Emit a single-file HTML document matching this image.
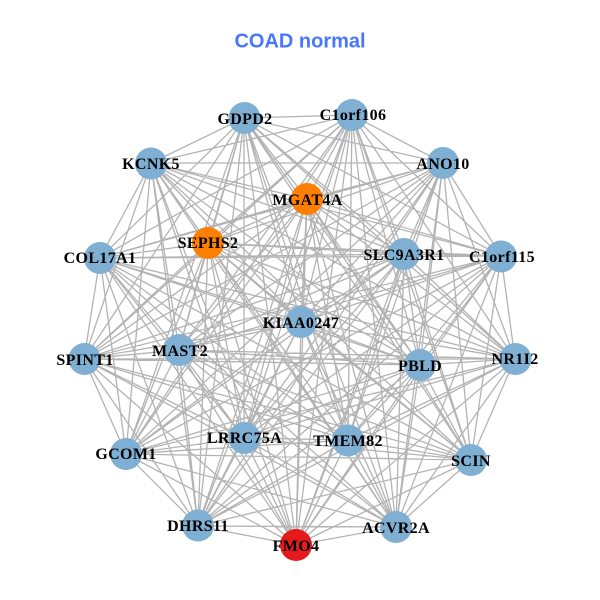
<!DOCTYPE html>
<html>
<head>
<meta charset="utf-8">
<style>
html,body{margin:0;padding:0;background:#fff;}
svg{display:block;}
.t{font-family:"Liberation Sans",sans-serif;font-weight:bold;font-size:20px;fill:#4876ff;}
.l{font-family:"Liberation Serif",serif;font-weight:bold;font-size:16px;letter-spacing:.35px;fill:#000;text-anchor:middle;}
</style>
</head>
<body>
<svg width="600" height="600" viewBox="0 0 600 600" xmlns="http://www.w3.org/2000/svg">
<rect width="600" height="600" fill="#fff"/>
<text class="t" x="300" y="47.5" text-anchor="middle">COAD normal</text>
<path fill="none" stroke="#b3b3b3" stroke-width="1.3" d="
M244 118L352 115M244 118L443 163M244 118L151 163M244 118L307 199M244 118L208 243M244 118L404 254M244 118L501 256M244 118L100 258M244 118L301 322M244 118L84 359M244 118L179 350M244 118L420 365M244 118L515 359M244 118L126 454M244 118L244 438M244 118L348 440M244 118L471 460M244 118L198 526M244 118L396 527M244 118L296 545
M352 115L443 163M352 115L151 163M352 115L307 199M352 115L208 243M352 115L404 254M352 115L501 256M352 115L100 258M352 115L301 322M352 115L84 359M352 115L179 350M352 115L420 365M352 115L515 359M352 115L126 454M352 115L244 438M352 115L348 440M352 115L471 460M352 115L198 526M352 115L396 527M352 115L296 545
M443 163L151 163M443 163L307 199M443 163L208 243M443 163L404 254M443 163L501 256M443 163L100 258M443 163L301 322M443 163L84 359M443 163L179 350M443 163L420 365M443 163L515 359M443 163L126 454M443 163L244 438M443 163L348 440M443 163L471 460M443 163L198 526M443 163L396 527M443 163L296 545
M151 163L307 199M151 163L208 243M151 163L404 254M151 163L501 256M151 163L100 258M151 163L301 322M151 163L84 359M151 163L179 350M151 163L420 365M151 163L515 359M151 163L126 454M151 163L244 438M151 163L348 440M151 163L471 460M151 163L198 526M151 163L396 527M151 163L296 545
M307 199L208 243M307 199L404 254M307 199L501 256M307 199L100 258M307 199L301 322M307 199L84 359M307 199L179 350M307 199L420 365M307 199L515 359M307 199L126 454M307 199L244 438M307 199L348 440M307 199L471 460M307 199L198 526M307 199L396 527M307 199L296 545
M208 243L404 254M208 243L501 256M208 243L100 258M208 243L301 322M208 243L84 359M208 243L179 350M208 243L420 365M208 243L515 359M208 243L126 454M208 243L244 438M208 243L348 440M208 243L471 460M208 243L198 526M208 243L396 527M208 243L296 545
M404 254L501 256M404 254L100 258M404 254L301 322M404 254L84 359M404 254L179 350M404 254L420 365M404 254L515 359M404 254L126 454M404 254L244 438M404 254L348 440M404 254L471 460M404 254L198 526M404 254L396 527M404 254L296 545
M501 256L100 258M501 256L301 322M501 256L84 359M501 256L179 350M501 256L420 365M501 256L515 359M501 256L126 454M501 256L244 438M501 256L348 440M501 256L471 460M501 256L198 526M501 256L396 527M501 256L296 545
M100 258L301 322M100 258L84 359M100 258L179 350M100 258L420 365M100 258L515 359M100 258L126 454M100 258L244 438M100 258L348 440M100 258L471 460M100 258L198 526M100 258L396 527M100 258L296 545
M301 322L84 359M301 322L179 350M301 322L420 365M301 322L515 359M301 322L126 454M301 322L244 438M301 322L348 440M301 322L471 460M301 322L198 526M301 322L396 527M301 322L296 545
M84 359L179 350M84 359L420 365M84 359L515 359M84 359L126 454M84 359L244 438M84 359L348 440M84 359L471 460M84 359L198 526M84 359L396 527M84 359L296 545
M179 350L420 365M179 350L515 359M179 350L126 454M179 350L244 438M179 350L348 440M179 350L471 460M179 350L198 526M179 350L396 527M179 350L296 545
M420 365L515 359M420 365L126 454M420 365L244 438M420 365L348 440M420 365L471 460M420 365L198 526M420 365L396 527M420 365L296 545
M515 359L126 454M515 359L244 438M515 359L348 440M515 359L471 460M515 359L198 526M515 359L396 527M515 359L296 545
M126 454L244 438M126 454L348 440M126 454L471 460M126 454L198 526M126 454L396 527M126 454L296 545
M244 438L348 440M244 438L471 460M244 438L198 526M244 438L396 527M244 438L296 545
M348 440L471 460M348 440L198 526M348 440L396 527M348 440L296 545
M471 460L198 526M471 460L396 527M471 460L296 545
M198 526L396 527M198 526L296 545
M396 527L296 545"/>
<g fill="#7fb0d3">
<circle cx="244.5" cy="118" r="16"/>
<circle cx="352" cy="115" r="16"/>
<circle cx="443" cy="163" r="16"/>
<circle cx="151" cy="163.5" r="16"/>
<circle cx="404" cy="254" r="16"/>
<circle cx="501" cy="256.5" r="16"/>
<circle cx="100" cy="258" r="16"/>
<circle cx="301" cy="322" r="16"/>
<circle cx="84.5" cy="359" r="16"/>
<circle cx="179.5" cy="350" r="16"/>
<circle cx="420" cy="365" r="16"/>
<circle cx="515.5" cy="359" r="16"/>
<circle cx="126" cy="454" r="16"/>
<circle cx="244.5" cy="438" r="16"/>
<circle cx="348" cy="440.5" r="16"/>
<circle cx="471" cy="460" r="16"/>
<circle cx="198" cy="525.5" r="16"/>
<circle cx="396" cy="527" r="16"/>
</g>
<circle cx="307" cy="199" r="16" fill="#ff7f00"/>
<circle cx="208" cy="243" r="16" fill="#ff7f00"/>
<circle cx="296" cy="545" r="16" fill="#e41a1c"/>
<g class="labels">
<text class="l" x="245" y="124">GDPD2</text>
<text class="l" x="353" y="120">C1orf106</text>
<text class="l" x="443" y="169">ANO10</text>
<text class="l" x="151" y="169">KCNK5</text>
<text class="l" x="307.500" y="205">MGAT4A</text>
<text class="l" x="208" y="248">SEPHS2</text>
<text class="l" x="404" y="260">SLC9A3R1</text>
<text class="l" x="502" y="262">C1orf115</text>
<text class="l" x="100" y="263">COL17A1</text>
<text class="l" x="301" y="328">KIAA0247</text>
<text class="l" x="85" y="365">SPINT1</text>
<text class="l" x="180" y="356">MAST2</text>
<text class="l" x="420" y="371">PBLD</text>
<text class="l" x="515" y="364">NR1I2</text>
<text class="l" x="126" y="459">GCOM1</text>
<text class="l" x="244.500" y="443">LRRC75A</text>
<text class="l" x="348" y="446">TMEM82</text>
<text class="l" x="471" y="466">SCIN</text>
<text class="l" x="198" y="531">DHRS11</text>
<text class="l" x="396" y="533">ACVR2A</text>
<text class="l" x="296" y="551">FMO4</text>
</g>
</svg>
</body>
</html>
